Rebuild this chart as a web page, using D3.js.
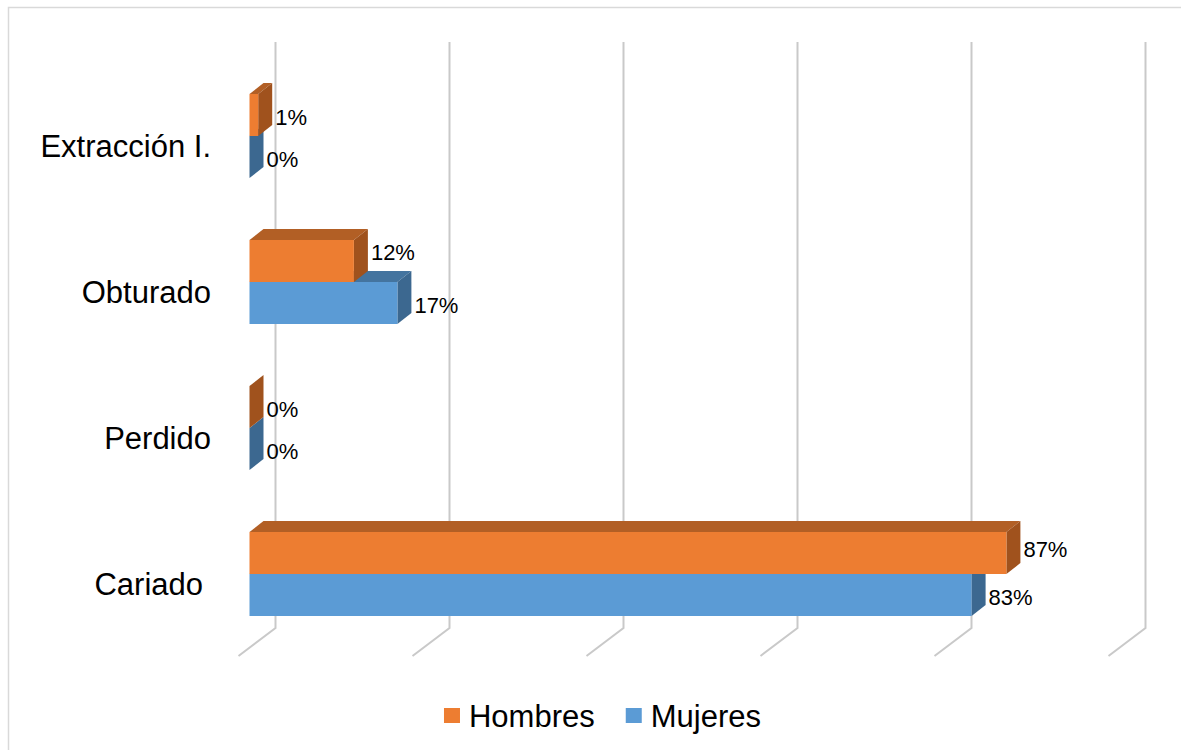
<!DOCTYPE html>
<html>
<head>
<meta charset="utf-8">
<script src="https://cdn.jsdelivr.net/npm/d3@7"></script>
<style>
  html, body { margin: 0; padding: 0; background: #fff; }
  svg { display: block; font-family: "Liberation Sans", Arial, sans-serif; }
</style>
</head>
<body>
<svg id="chart" width="1181" height="750"></svg>
<script>
// Categories, top to bottom
const categories = ["Extracción I.", "Obturado", "Perdido", "Cariado"];
// Percentages per series
const hombres = [1, 12, 0, 87];
const mujeres = [0, 17, 0, 83];
const seriesNames = ["Hombres", "Mujeres"];
const axisTicks = [0, 20, 40, 60, 80, 100];

const colors = {
  Hombres: { front: "#ED7D31", top: "#B25F25", side: "#A0521D" },
  Mujeres: { front: "#5B9BD5", top: "#44749F", side: "#3C6890" }
};

const svg = d3.select("#chart");

// Outer chart border
svg.append("rect")
  .attr("x", 8.5).attr("y", 7.5)
  .attr("width", 1190).attr("height", 760)
  .attr("fill", "none").attr("stroke", "#d9d9d9").attr("stroke-width", 1.5);

// Scales
const x = d3.scaleLinear().domain([0, 100]).range([0, 870]);
const y = d3.scaleBand().domain(categories).range([63, 647]);

const frontX0 = 249.5;        // front face origin of the bars
const backX0 = 275.5;         // back wall origin (gridlines)
const depth = { dx: 14, dy: -11 };
const barH = 42;
const gridTop = 42, gridBottom = 628;
const floor = { dx: -37, dy: 28 };

// Gridlines on the back wall, bending forward along the floor
const grid = svg.append("g");
axisTicks.forEach(t => {
  const gx = backX0 + x(t);
  grid.append("path")
    .attr("d", `M${gx},${gridTop} L${gx},${gridBottom} L${gx + floor.dx},${gridBottom + floor.dy}`)
    .attr("fill", "none").attr("stroke", "#c9c9c9").attr("stroke-width", 2);
});

// 3D bar: front face, top face, side face
function bar3d(g, value, yTop, c) {
  const x0 = frontX0, x1 = frontX0 + x(value), yb = yTop + barH;
  const { dx, dy } = depth;
  g.append("polygon")
    .attr("points", [[x0, yTop], [x1, yTop], [x1 + dx, yTop + dy], [x0 + dx, yTop + dy]].join(" "))
    .attr("fill", c.top);
  g.append("polygon")
    .attr("points", [[x1, yTop], [x1 + dx, yTop + dy], [x1 + dx, yb + dy], [x1, yb]].join(" "))
    .attr("fill", c.side);
  if (value > 0) {
    g.append("rect")
      .attr("x", x0).attr("y", yTop)
      .attr("width", x1 - x0).attr("height", barH)
      .attr("fill", c.front);
  }
}

const bars = svg.append("g");
const labels = svg.append("g").attr("font-size", 22).attr("fill", "#000");
// Small vertical adjustments Excel applies to the upper series labels
const upperNudge = { "Obturado": -11, "Cariado": -6 };

categories.forEach((cat, i) => {
  const center = y(cat) + y.bandwidth() / 2;
  const g = bars.append("g");
  // lower (Mujeres) drawn first so the upper bar overlaps its top face
  bar3d(g, mujeres[i], center, colors.Mujeres);
  bar3d(g, hombres[i], center - barH, colors.Hombres);

  labels.append("text")
    .attr("x", frontX0 + x(hombres[i]) + depth.dx + 3)
    .attr("y", center - barH / 2 + 2 + (upperNudge[cat] || 0))
    .attr("dominant-baseline", "central")
    .text(hombres[i] + "%");
  labels.append("text")
    .attr("x", frontX0 + x(mujeres[i]) + depth.dx + 3)
    .attr("y", center + barH / 2 + 2)
    .attr("dominant-baseline", "central")
    .text(mujeres[i] + "%");
});

// Category labels
const catOffset = { "Cariado": -8 };
svg.append("g").attr("font-size", 31).attr("fill", "#000")
  .selectAll("text").data(categories).join("text")
  .attr("x", d => 211 + (catOffset[d] || 0))
  .attr("y", d => y(d) + y.bandwidth() / 2 + 10)
  .attr("text-anchor", "end")
  .attr("dominant-baseline", "central")
  .text(d => d);

// Legend
const legend = svg.append("g").attr("font-size", 31);
let lx = 0;
const items = [];
seriesNames.forEach((name, i) => {
  const it = legend.append("g").attr("transform", `translate(${lx},0)`);
  it.append("rect").attr("x", 0).attr("y", -8).attr("width", 16).attr("height", 15)
    .attr("fill", colors[name].front);
  const t = it.append("text").attr("x", 25).attr("y", 0)
    .attr("dominant-baseline", "central").text(name);
  const w = 25 + t.node().getComputedTextLength();
  lx += w + 31;
  items.push(w);
});
const totalW = lx - 31;
legend.attr("transform", `translate(${602.5 - totalW / 2},716)`);
</script>
</body>
</html>
